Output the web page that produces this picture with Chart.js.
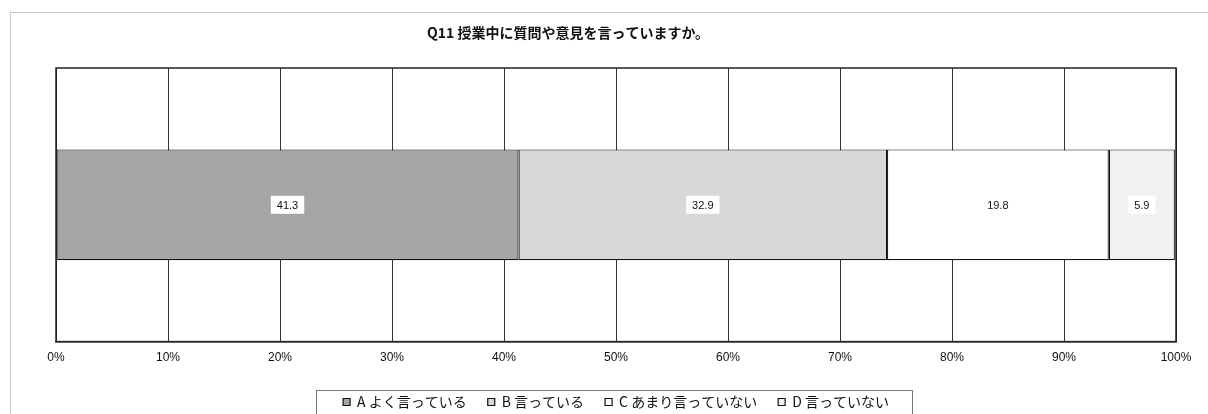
<!DOCTYPE html>
<html>
<head>
<meta charset="utf-8">
<script src="https://cdn.jsdelivr.net/npm/chart.js@4/dist/chart.umd.min.js"></script>
<style>
  html, body { margin: 0; padding: 0; background: #fff; }
  #wrap { width: 1208px; height: 414px; }
</style>
</head>
<body>
<div id="wrap"><canvas id="chart"></canvas></div>
<script>
const titleText = "Q11 授業中に質問や意見を言っていますか。";
const categories = [""];
const seriesNames = ["A よく言っている", "B 言っている", "C あまり言っていない", "D 言っていない"];
const seriesValues = [[41.3], [32.9], [19.8], [5.9]];
const seriesColors = ["#a5a5a5", "#d8d8d8", "#ffffff", "#f1f1f1"];
const tickValues = [0, 10, 20, 30, 40, 50, 60, 70, 80, 90, 100];

const jp = "'Noto Sans CJK JP', 'Liberation Sans', sans-serif";

// outer frame, plot border, title, legend box
const framePlugin = {
    id: "frame",
    beforeDraw(chart) {
        const ctx = chart.ctx;
        ctx.save();
        ctx.fillStyle = "#fff";
        ctx.fillRect(0, 0, chart.width, chart.height);
        ctx.strokeStyle = "#c8c8c8";
        ctx.lineWidth = 1;
        ctx.strokeRect(10.5, 12.5, chart.width + 20, chart.height + 20);
        ctx.restore();
    },
    afterDraw(chart) {
        const ctx = chart.ctx;
        const a = chart.chartArea;
        ctx.save();
        ctx.strokeStyle = "#222";
        ctx.lineWidth = 1.5;
        ctx.strokeRect(a.left, a.top, a.right - a.left, a.bottom - a.top);

        ctx.fillStyle = "#111";
        ctx.font = "bold 14px " + jp;
        ctx.textAlign = "center";
        ctx.textBaseline = "middle";
        ctx.fillText(titleText, 568, 33);

        ctx.strokeStyle = "#777";
        ctx.lineWidth = 1;
        ctx.strokeRect(316.5, 390.5, 596, 40);
        ctx.restore();
    }
};

// value labels in white boxes
const labelPlugin = {
    id: "valueLabels",
    afterDatasetsDraw(chart) {
        const ctx = chart.ctx;
        ctx.save();
        ctx.font = "11px 'Liberation Sans Narrow', 'Liberation Sans', sans-serif";
        ctx.textAlign = "center";
        ctx.textBaseline = "middle";
        chart.data.datasets.forEach((ds, i) => {
            chart.getDatasetMeta(i).data.forEach((bar, j) => {
                const txt = ds.data[j].toFixed(1);
                const x = (bar.x + bar.base) / 2;
                const y = bar.y;
                const w = ctx.measureText(txt).width + 12;
                ctx.fillStyle = "#fff";
                ctx.fillRect(x - w / 2, y - 9, w, 18);
                ctx.fillStyle = "#111";
                ctx.fillText(txt, x, y + 1);
            });
        });
        ctx.restore();
    }
};

new Chart(document.getElementById("chart"), {
    type: "bar",
    data: {
        labels: categories,
        datasets: seriesNames.map((name, i) => ({
            label: name,
            data: seriesValues[i],
            backgroundColor: seriesColors[i],
            borderColor: "#111",
            borderWidth: 1.2,
            borderSkipped: false,
            categoryPercentage: 1,
            barPercentage: 0.405
        }))
    },
    options: {
        indexAxis: "y",
        responsive: true,
        maintainAspectRatio: false,
        animation: false,
        layout: { padding: { left: 56, right: 32, top: 68, bottom: -5 } },
        scales: {
            x: {
                stacked: true,
                min: 0,
                max: 100,
                afterBuildTicks(axis) {
                    axis.ticks = tickValues.map(v => ({ value: v }));
                },
                ticks: {
                    callback: v => v + "%",
                    color: "#111",
                    padding: 9,
                    maxRotation: 0,
                    font: { family: "'Liberation Sans', sans-serif", size: 12 }
                },
                grid: { color: "#333", lineWidth: 1, drawTicks: false },
                border: { color: "#222", width: 1.5 }
            },
            y: {
                stacked: true,
                display: false
            }
        },
        plugins: {
            title: { display: false },
            tooltip: { enabled: false },
            legend: {
                position: "bottom",
                labels: {
                    boxWidth: 7,
                    boxHeight: 7,
                    padding: 21,
                    color: "#111",
                    font: { family: jp, size: 14 }
                }
            }
        }
    },
    plugins: [framePlugin, labelPlugin]
});
</script>
</body>
</html>
